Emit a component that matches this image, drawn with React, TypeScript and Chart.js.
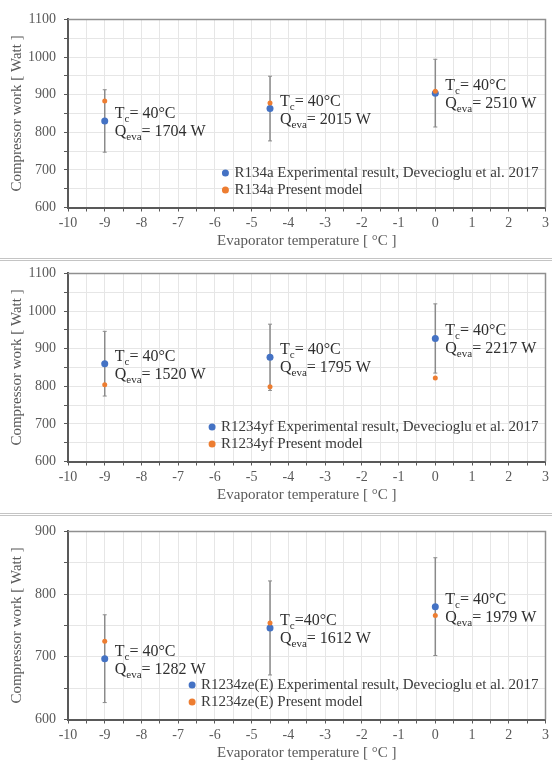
import React, { useEffect, useRef } from 'react';
import { Chart, registerables } from 'chart.js';

Chart.register(...registerables);

// Evaporator temperatures of the test points [°C]
const evapTemps = [-9, -4.5, 0];

// R134a: measured compressor work, its uncertainty, and model prediction [W]
const r134aExperimental = [830, 863, 904];
const r134aUncertainty = [83, 86, 90];
const r134aModel = [883, 878, 909];
const r134aQeva = [1704, 2015, 2510];

// R1234yf
const r1234yfExperimental = [860, 877, 927];
const r1234yfUncertainty = [86, 88, 92];
const r1234yfModel = [804, 799, 822];
const r1234yfQeva = [1520, 1795, 2217];

// R1234ze(E)
const r1234zeExperimental = [697, 746, 780];
const r1234zeUncertainty = [70, 75, 78];
const r1234zeModel = [725, 754, 766];
const r1234zeQeva = [1282, 1612, 1979];

const condensingTemp = 40;
const xRange = [-10, 3];

const SERIF = '"Liberation Serif", "Times New Roman", serif';
const BLUE = '#4472C4';
const ORANGE = '#ED7D31';
const AXIS = '#595959';

type PanelSpec = {
  fluid: string;
  experimental: number[];
  uncertainty: number[];
  model: number[];
  qeva: number[];
  tcSeparators: string[];
  yRange: number[];
  top: number;
};

const panels: PanelSpec[] = [
  {
    fluid: 'R134a',
    experimental: r134aExperimental,
    uncertainty: r134aUncertainty,
    model: r134aModel,
    qeva: r134aQeva,
    tcSeparators: ['= ', '= ', '= '],
    yRange: [600, 1100],
    top: 3,
  },
  {
    fluid: 'R1234yf',
    experimental: r1234yfExperimental,
    uncertainty: r1234yfUncertainty,
    model: r1234yfModel,
    qeva: r1234yfQeva,
    tcSeparators: ['= ', '= ', '= '],
    yRange: [600, 1100],
    top: 257,
  },
  {
    fluid: 'R1234ze(E)',
    experimental: r1234zeExperimental,
    uncertainty: r1234zeUncertainty,
    model: r1234zeModel,
    qeva: r1234zeQeva,
    tcSeparators: ['= ', '=', '= '],
    yRange: [600, 900],
    top: 515,
  },
];

const CANVAS_W = 552;
const CANVAS_H = 250;

// Draws a line of text made of normal and subscript runs
function drawRich(ctx: CanvasRenderingContext2D, x: number, baseline: number, parts: [string, boolean][]) {
  let cx = x;
  for (const [text, sub] of parts) {
    ctx.font = sub ? `11px ${SERIF}` : `16px ${SERIF}`;
    ctx.fillText(text, cx, sub ? baseline + 4 : baseline);
    cx += ctx.measureText(text).width;
  }
}

function Panel({ spec }: { spec: PanelSpec }) {
  const ref = useRef<HTMLCanvasElement | null>(null);

  useEffect(() => {
    if (!ref.current) return;

    const errorData: any[] = [];
    evapTemps.forEach((t, i) => {
      errorData.push({ x: t, y: spec.experimental[i] - spec.uncertainty[i] });
      errorData.push({ x: t, y: spec.experimental[i] + spec.uncertainty[i] });
      errorData.push({ x: t, y: null });
    });

    const legendRows = [
      { label: `${spec.fluid} Experimental result, Devecioglu et al. 2017`, color: BLUE },
      { label: `${spec.fluid} Present model`, color: ORANGE },
    ];

    const decorations = {
      id: 'decorations',
      beforeDatasetsDraw(chart: any) {
        const { ctx, chartArea: a } = chart;
        ctx.save();
        ctx.strokeStyle = '#8f8f8f';
        ctx.lineWidth = 1.5;
        ctx.beginPath();
        ctx.moveTo(a.left, a.top);
        ctx.lineTo(a.right, a.top);
        ctx.lineTo(a.right, a.bottom);
        ctx.stroke();
        ctx.restore();
      },
      afterDatasetsDraw(chart: any) {
        const { ctx, chartArea: a } = chart;
        ctx.save();
        // condition labels next to each measured point
        const meta = chart.getDatasetMeta(1);
        ctx.fillStyle = '#2f2f2f';
        ctx.textBaseline = 'alphabetic';
        ctx.textAlign = 'left';
        meta.data.forEach((pt: any, i: number) => {
          const x = pt.x + 10;
          drawRich(ctx, x, pt.y - 3, [
            ['T', false],
            ['c', true],
            [`${spec.tcSeparators[i]}${condensingTemp}°C`, false],
          ]);
          drawRich(ctx, x, pt.y + 15, [
            ['Q', false],
            ['eva', true],
            [`= ${spec.qeva[i]} W`, false],
          ]);
        });

        // legend inside the plot area
        ctx.font = `15px ${SERIF}`;
        ctx.textBaseline = 'middle';
        const w = Math.max(...legendRows.map((r) => ctx.measureText(r.label).width));
        const tx = a.right - 7 - w;
        legendRows.forEach((r, i) => {
          const y = a.bottom - 34.5 + i * 17;
          ctx.fillStyle = r.color;
          ctx.beginPath();
          ctx.arc(tx - 9, y, 3.5, 0, Math.PI * 2);
          ctx.fill();
          ctx.fillStyle = '#3a3a3a';
          ctx.fillText(r.label, tx, y);
        });
        ctx.restore();
      },
    };

    const chart = new Chart(ref.current, {
      type: 'scatter',
      data: {
        datasets: [
          {
            label: `${spec.fluid} Present model`,
            data: evapTemps.map((t, i) => ({ x: t, y: spec.model[i] })),
            backgroundColor: ORANGE,
            borderColor: ORANGE,
            pointRadius: 2.5,
            pointBorderWidth: 0,
            order: 0,
          },
          {
            label: `${spec.fluid} Experimental result, Devecioglu et al. 2017`,
            data: evapTemps.map((t, i) => ({ x: t, y: spec.experimental[i] })),
            backgroundColor: BLUE,
            borderColor: BLUE,
            pointRadius: 3.5,
            pointBorderWidth: 0,
            order: 1,
          },
          {
            label: 'uncertainty',
            data: errorData,
            showLine: true,
            spanGaps: false,
            borderColor: '#8a8a8a',
            borderWidth: 1.5,
            pointStyle: 'line',
            pointRadius: 2,
            pointBorderColor: '#8a8a8a',
            pointBorderWidth: 1,
            pointBackgroundColor: '#8a8a8a',
            order: 2,
          } as any,
        ],
      },
      options: {
        responsive: false,
        animation: false,
        events: [],
        layout: { padding: { top: 10, right: 4, bottom: 0, left: 0 } },
        plugins: {
          legend: { display: false },
          tooltip: { enabled: false },
        },
        scales: {
          x: {
            type: 'linear',
            min: xRange[0],
            max: xRange[1],
            afterFit: (s: any) => {
              s.height = 45.5;
            },
            border: { color: AXIS, width: 2 },
            grid: { color: '#e6e6e6', tickColor: AXIS, tickLength: 4, lineWidth: 1 },
            ticks: {
              stepSize: 0.5,
              autoSkip: false,
              maxRotation: 0,
              padding: 3,
              color: AXIS,
              font: { family: SERIF, size: 14 },
              callback: (v: any) => (Number.isInteger(v) ? String(v) : ''),
            },
            title: {
              display: true,
              text: 'Evaporator temperature [ °C ]',
              color: AXIS,
              font: { family: SERIF, size: 15 },
              padding: { top: 0, bottom: 2.5 },
            },
          },
          y: {
            type: 'linear',
            min: spec.yRange[0],
            max: spec.yRange[1],
            afterFit: (s: any) => {
              s.width = 68;
            },
            border: { color: AXIS, width: 2 },
            grid: { color: '#e6e6e6', tickColor: AXIS, tickLength: 4, lineWidth: 1 },
            ticks: {
              stepSize: 50,
              autoSkip: false,
              padding: 8,
              color: AXIS,
              font: { family: SERIF, size: 14 },
              callback: (v: any) => (v % 100 === 0 ? String(v) : ''),
            },
            title: {
              display: true,
              text: 'Compressor work [ Watt ]',
              color: AXIS,
              font: { family: SERIF, size: 15 },
              padding: { top: 8, bottom: 0 },
            },
          },
        },
      },
      plugins: [decorations],
    } as any);

    return () => chart.destroy();
  }, [spec]);

  return (
    <canvas
      ref={ref}
      width={CANVAS_W}
      height={CANVAS_H}
      style={{ position: 'absolute', left: 0, top: spec.top, width: CANVAS_W, height: CANVAS_H }}
    />
  );
}

const separatorTops = [258, 513];

export default function App() {
  return (
    <div
      style={{
        position: 'absolute',
        left: 0,
        top: 0,
        width: 552,
        height: 763,
        overflow: 'hidden',
        background: '#ffffff',
      }}
    >
      {panels.map((p) => (
        <Panel key={p.fluid} spec={p} />
      ))}
      {separatorTops.map((t) => (
        <div
          key={t}
          style={{
            position: 'absolute',
            left: 0,
            top: t,
            width: 552,
            height: 1,
            borderTop: '1px solid #c4c4c4',
            borderBottom: '1px solid #c4c4c4',
          }}
        />
      ))}
    </div>
  );
}
